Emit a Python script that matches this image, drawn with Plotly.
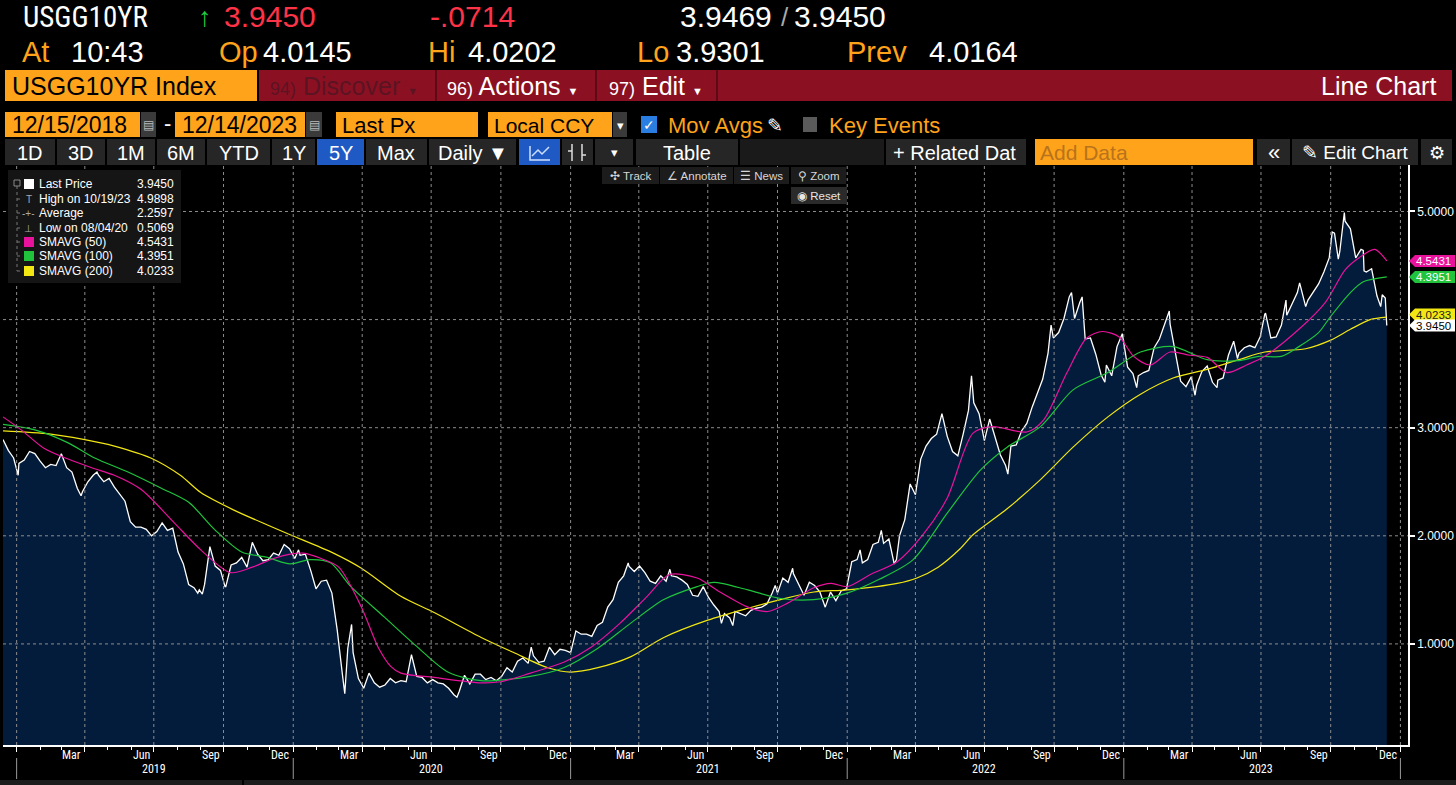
import pandas as pd
import plotly.graph_objects as go

# ---- data (USGG10YR, weekly Friday closes) ----
PRICE_2018 = [2.89, 2.79, 2.72]
PRICE_2019 = [2.67, 2.70, 2.78, 2.76, 2.69, 2.63, 2.66, 2.65, 2.76, 2.63, 2.59, 2.44, 2.41,
              2.50, 2.56, 2.56, 2.50, 2.53, 2.45, 2.39, 2.32, 2.13, 2.08, 2.08, 2.06, 2.00,
              2.04, 2.12, 2.05, 2.07, 1.85, 1.74, 1.55, 1.52, 1.50, 1.55, 1.90, 1.72, 1.68,
              1.53, 1.73, 1.75, 1.80, 1.71, 1.94, 1.83, 1.77, 1.78, 1.84, 1.82, 1.92, 1.88]
PRICE_2020 = [1.79, 1.82, 1.83, 1.68, 1.51, 1.58, 1.59, 1.47, 1.13, 0.71, 0.96, 0.92, 0.68,
              0.59, 0.73, 0.64, 0.60, 0.62, 0.68, 0.64, 0.66, 0.65, 0.90, 0.70, 0.69, 0.64,
              0.67, 0.64, 0.63, 0.59, 0.53, 0.56, 0.71, 0.63, 0.72, 0.72, 0.67, 0.69, 0.66,
              0.70, 0.78, 0.74, 0.84, 0.87, 0.82, 0.89, 0.83, 0.84, 0.97, 0.90, 0.95, 0.94]
PRICE_2021 = [0.92, 1.12, 1.09, 1.09, 1.07, 1.17, 1.20, 1.34, 1.41, 1.57, 1.63, 1.72, 1.67,
              1.72, 1.66, 1.58, 1.56, 1.63, 1.58, 1.63, 1.62, 1.59, 1.55, 1.45, 1.44, 1.53,
              1.43, 1.36, 1.30, 1.28, 1.24, 1.30, 1.28, 1.26, 1.31, 1.33, 1.34, 1.37, 1.47,
              1.47, 1.61, 1.57, 1.65, 1.55, 1.45, 1.57, 1.54, 1.48, 1.34, 1.48, 1.40, 1.49, 1.51]
PRICE_2022 = [1.76, 1.78, 1.75, 1.78, 1.92, 1.94, 1.93, 1.97, 1.74, 2.00, 2.15, 2.48,
              2.38, 2.71, 2.83, 2.90, 2.94, 3.13, 2.92, 2.78, 2.74, 2.94, 3.16, 3.23, 3.13,
              2.88, 3.08, 2.92, 2.75, 2.65, 2.83, 2.84, 2.97, 3.04, 3.19, 3.32, 3.45, 3.69, 3.83,
              3.88, 4.01, 4.21, 4.01, 4.16, 3.82, 3.83, 3.68, 3.49, 3.58, 3.48, 3.75, 3.87]
PRICE_2023 = [3.56, 3.50, 3.48, 3.51, 3.53, 3.74, 3.82, 3.95, 3.96, 3.70, 3.43, 3.38, 3.47,
              3.39, 3.52, 3.57, 3.42, 3.44, 3.46, 3.67, 3.80, 3.69, 3.74, 3.76, 3.74, 3.84,
              4.06, 3.83, 3.84, 3.95, 4.04, 4.15, 4.25, 4.24, 4.18, 4.26, 4.33, 4.44, 4.57,
              4.80, 4.63, 4.91, 4.84, 4.57, 4.65, 4.44, 4.47, 4.22, 4.23]

# intra-week extremes
EXTRA_DATES = ["2019-01-03", "2019-03-27", "2019-04-17", "2019-08-28", "2019-09-03", "2019-10-03",
               "2020-01-08", "2020-03-09", "2020-03-18", "2020-08-04", "2020-11-10", "2021-03-18",
               "2021-05-12", "2021-07-19", "2021-08-03", "2021-09-28", "2021-10-21", "2022-01-18",
               "2022-02-15", "2022-03-07", "2022-06-14", "2022-08-01", "2022-09-27", "2022-10-24",
               "2022-11-07", "2022-12-07", "2023-01-18", "2023-03-02", "2023-04-05", "2023-05-04",
               "2023-05-31", "2023-07-06", "2023-08-03", "2023-08-21", "2023-08-29", "2023-10-03",
               "2023-10-11", "2023-10-19", "2023-11-13", "2023-11-14", "2023-11-28", "2023-12-06",
               "2023-12-12", "2023-12-13", "2023-12-14"]
EXTRA_VALS = [2.56, 2.37, 2.59, 1.47, 1.46, 1.53,
              1.87, 0.54, 1.18, 0.5069, 0.97, 1.75,
              1.69, 1.19, 1.17, 1.54, 1.70, 1.87,
              2.05, 1.78, 3.48, 2.57, 3.95, 4.25,
              4.21, 3.42, 3.37, 4.08, 3.30, 3.37,
              3.64, 4.05, 4.18, 4.34, 4.12, 4.81,
              4.56, 4.9898, 4.64, 4.45, 4.34, 4.12,
              4.20, 4.03, 3.945]

# moving averages
SMA50_DATES = ["2018-12-14", "2019-01-07", "2019-02-06", "2019-03-10", "2019-04-10", "2019-05-10",
               "2019-06-14", "2019-07-28", "2019-09-01", "2019-10-10", "2019-11-08", "2019-12-06",
               "2019-12-28", "2020-01-14", "2020-02-07", "2020-03-01", "2020-03-31", "2020-04-22",
               "2020-05-09", "2020-05-22", "2020-07-05", "2020-09-05", "2020-10-01", "2020-11-09",
               "2020-12-23", "2021-01-28", "2021-03-07", "2021-04-12", "2021-05-11", "2021-06-17",
               "2021-07-17", "2021-08-23", "2021-09-18", "2021-10-15", "2021-11-18", "2021-12-11",
               "2022-01-01", "2022-01-31", "2022-03-08", "2022-04-11", "2022-05-13", "2022-06-16",
               "2022-07-12", "2022-08-26", "2022-09-17", "2022-10-18", "2022-11-13", "2022-12-04",
               "2022-12-26", "2023-01-14", "2023-02-05", "2023-03-03", "2023-03-29", "2023-04-21",
               "2023-05-17", "2023-06-12", "2023-07-06", "2023-08-20", "2023-09-24", "2023-10-20",
               "2023-11-07", "2023-11-28", "2023-12-14"]
SMA50_VALS = [3.10, 2.98, 2.81, 2.71, 2.63, 2.56,
              2.43, 2.12, 1.87, 1.66, 1.71, 1.79,
              1.83, 1.84, 1.79, 1.71, 1.34, 0.97,
              0.79, 0.73, 0.69, 0.64, 0.65, 0.73,
              0.83, 0.97, 1.19, 1.44, 1.64, 1.61,
              1.48, 1.34, 1.30, 1.38, 1.52, 1.56,
              1.53, 1.64, 1.76, 2.01, 2.35, 2.95,
              3.01, 2.96, 3.07, 3.51, 3.83, 3.89,
              3.84, 3.66, 3.58, 3.70, 3.67, 3.65,
              3.51, 3.58, 3.66, 3.91, 4.16, 4.46,
              4.57, 4.65, 4.5431]

SMA100_DATES = ["2018-12-14", "2019-01-25", "2019-03-10", "2019-04-14", "2019-05-28", "2019-07-11",
                "2019-08-16", "2019-09-19", "2019-10-25", "2019-11-28", "2019-12-28", "2020-01-23",
                "2020-02-19", "2020-03-17", "2020-04-30", "2020-06-13", "2020-07-23", "2020-09-05",
                "2020-11-09", "2020-12-23", "2021-02-06", "2021-03-21", "2021-05-04", "2021-06-17",
                "2021-07-09", "2021-08-23", "2021-10-05", "2021-11-18", "2022-01-01", "2022-02-13",
                "2022-03-29", "2022-05-13", "2022-06-26", "2022-07-31", "2022-09-13", "2022-10-26",
                "2022-12-11", "2023-01-23", "2023-03-07", "2023-04-21", "2023-06-02", "2023-06-28",
                "2023-07-28", "2023-08-20", "2023-09-15", "2023-10-01", "2023-10-27", "2023-11-13",
                "2023-12-14"]
SMA100_VALS = [3.03, 2.98, 2.86, 2.72, 2.59, 2.44,
               2.31, 2.06, 1.85, 1.80, 1.74, 1.78,
               1.75, 1.53, 1.25, 0.97, 0.74, 0.66,
               0.70, 0.78, 0.96, 1.19, 1.41, 1.53,
               1.57, 1.50, 1.42, 1.41, 1.47, 1.60,
               1.78, 2.21, 2.61, 2.82, 3.01, 3.35,
               3.51, 3.70, 3.75, 3.63, 3.62, 3.66,
               3.66, 3.75, 3.88, 4.03, 4.25, 4.35,
               4.3951]

SMA200_DATES = ["2018-12-14", "2019-02-15", "2019-04-22", "2019-05-10", "2019-06-27", "2019-08-05",
                "2019-09-01", "2019-10-14", "2019-11-28", "2019-12-28", "2020-02-23", "2020-03-31",
                "2020-05-22", "2020-07-05", "2020-09-05", "2020-10-18", "2020-12-02", "2021-01-01",
                "2021-02-06", "2021-03-21", "2021-05-04", "2021-07-01", "2021-08-23", "2021-10-05",
                "2021-11-18", "2022-01-01", "2022-03-08", "2022-04-03", "2022-05-01", "2022-05-30",
                "2022-06-16", "2022-07-31", "2022-09-13", "2022-10-26", "2022-12-11", "2023-01-23",
                "2023-03-07", "2023-04-21", "2023-06-02", "2023-07-06", "2023-08-29", "2023-10-01",
                "2023-10-27", "2023-11-22", "2023-12-14"]
SMA200_VALS = [2.97, 2.94, 2.86, 2.83, 2.72, 2.56,
               2.40, 2.24, 2.10, 2.01, 1.84, 1.70,
               1.44, 1.29, 1.06, 0.92, 0.78, 0.74,
               0.78, 0.88, 1.06, 1.22, 1.33, 1.41,
               1.48, 1.50, 1.56, 1.61, 1.71, 1.88,
               2.01, 2.25, 2.52, 2.82, 3.10, 3.31,
               3.46, 3.54, 3.63, 3.70, 3.73, 3.81,
               3.91, 4.00, 4.0233]

Y_TICKS = [1, 2, 3, 5]
H_GRID = [1, 2, 3, 4, 5]
MONTH_LABELS = {3: "Mar", 6: "Jun", 9: "Sep", 12: "Dec"}
YEARS = [2019, 2020, 2021, 2022, 2023]

LEGEND_NAMES = ["Last Price", "High on 10/19/23", "Average", "Low on 08/04/20",
                "SMAVG (50)", "SMAVG (100)", "SMAVG (200)"]
LEGEND_VALUES = ["3.9450", "4.9898", "2.2597", "0.5069", "4.5431", "4.3951", "4.0233"]

# ---- colours / fonts ----
ORANGE = "#ffa31a"
RED = "#ff3347"
MAROON = "#8b1122"
MAGENTA = "#e8129c"
GREEN = "#1fc43c"
YELLOW = "#f2e712"
NAVY = "#031c3c"
GRID = "#8c8c8c"
NARROW = "'Liberation Sans Narrow', 'Roboto Condensed', 'DejaVu Sans Condensed', 'Arial Narrow', sans-serif"
SANS = "'Liberation Sans', Arial, sans-serif"

weekly = pd.Series(PRICE_2018 + PRICE_2019 + PRICE_2020 + PRICE_2021 + PRICE_2022 + PRICE_2023,
                   index=pd.date_range("2018-12-14", "2023-12-08", freq="W-FRI"))
extra = pd.Series(EXTRA_VALS, index=pd.to_datetime(EXTRA_DATES))
price = pd.concat([weekly, extra]).sort_index()

# pixel layout of the plot area inside the 1456x785 page
W, H = 1456, 785
L, T, PW, PH = 3, 165, 1405, 580


def fx(p):
    return (p - L) / PW


def fy(p):
    return (T + PH - p) / PH


shapes = []
annotations = []


def rect(x0, y0, x1, y1, color, line=None):
    shapes.append(dict(type="rect", xref="paper", yref="paper", layer="above",
                       x0=fx(x0), x1=fx(x1), y0=fy(y1), y1=fy(y0), fillcolor=color,
                       line=dict(width=0) if line is None else dict(color=line, width=1)))


def text(x, y, s, color="white", size=12, anchor="left", family=SANS):
    annotations.append(dict(xref="paper", yref="paper", x=fx(x), y=fy(y), text=s,
                            showarrow=False, xanchor=anchor, yanchor="middle", borderpad=0,
                            font=dict(color=color, size=size, family=family)))


def button(x0, x1, y0, y1, s, bg="#262626", color="white", size=20, anchor="center", pad=5):
    rect(x0, y0, x1, y1, bg)
    xt = {"center": (x0 + x1) / 2, "left": x0 + pad, "right": x1 - pad}[anchor]
    text(xt, (y0 + y1) / 2 + 0.5, s, color, size, anchor)


fig = go.Figure()

fig.add_trace(go.Scatter(x=price.index, y=price.values, mode="lines", fill="tozeroy",
                         fillcolor=NAVY, line=dict(color="white", width=1.3), hoverinfo="skip"))
for d, v, c in [(SMA200_DATES, SMA200_VALS, YELLOW), (SMA100_DATES, SMA100_VALS, GREEN),
                (SMA50_DATES, SMA50_VALS, MAGENTA)]:
    fig.add_trace(go.Scatter(x=pd.to_datetime(d), y=v, mode="lines",
                             line=dict(color=c, width=1.2, shape="spline", smoothing=0.8),
                             hoverinfo="skip"))

# dotted grid drawn over the area fill
quarters = pd.date_range("2019-01-01", "2024-01-01", freq="QS")
for q in quarters:
    shapes.append(dict(type="line", xref="x", yref="paper", x0=q, x1=q, y0=0, y1=1, layer="above",
                       line=dict(color=GRID, width=1, dash="dot")))
for g in H_GRID:
    shapes.append(dict(type="line", xref="paper", yref="y", x0=0, x1=1, y0=g, y1=g, layer="above",
                       line=dict(color=GRID, width=1, dash="dot")))

# month / year labels under the axis
for yr in YEARS:
    for m, lab in MONTH_LABELS.items():
        annotations.append(dict(xref="x", yref="paper", x=pd.Timestamp(yr, m, 15), y=fy(754.5),
                                text=lab, showarrow=False, xanchor="center", yanchor="middle",
                                borderpad=0, font=dict(color="white", size=12, family=NARROW)))
    annotations.append(dict(xref="x", yref="paper", x=pd.Timestamp(yr, 7, 1), y=fy(769),
                            text=str(yr), showarrow=False, xanchor="center", yanchor="middle",
                            borderpad=0, font=dict(color="white", size=12, family=NARROW)))
for yr in YEARS + [2024]:
    shapes.append(dict(type="line", xref="x", yref="paper", x0=pd.Timestamp(yr, 1, 1),
                       x1=pd.Timestamp(yr, 1, 1), y0=fy(758), y1=fy(779),
                       line=dict(color="#9a9a9a", width=1)))

# right-hand value flags (yellow pushed just above the last-price flag, as on the terminal)
last_px = price.values[-1]
flags = [(YELLOW, max(SMA200_VALS[-1], last_px + 11 / 108), SMA200_VALS[-1], "#222222"),
         (MAGENTA, SMA50_VALS[-1], SMA50_VALS[-1], "white"),
         (GREEN, SMA100_VALS[-1], SMA100_VALS[-1], "white"),
         ("white", last_px, last_px, "black")]
for col, ypos, v, tc in flags:
    h = 6 / 108
    shapes.append(dict(type="path", xref="paper", yref="y", layer="above",
                       path=f"M {fx(1409)},{ypos} L {fx(1415)},{ypos + h} L {fx(1455)},{ypos + h} "
                            f"L {fx(1455)},{ypos - h} L {fx(1415)},{ypos - h} Z",
                       fillcolor=col, line=dict(width=0)))
    annotations.append(dict(xref="paper", yref="y", x=fx(1452), y=ypos, text=f"{v:.4f}",
                            showarrow=False, xanchor="right", yanchor="middle", borderpad=0,
                            font=dict(color=tc, size=11.5, family=SANS)))

# ---- header ----
text(22, 17, "USGG10YR", size=29, family=NARROW)
text(197, 17, "↑", "#22cc44", 27)
text(223, 17, "3.9450", RED, 30)
text(429, 17, "-.0714", RED, 30)
text(679, 17, "3.9469", size=30)
text(780, 17, "/", "#aaaaaa", 26)
text(793, 17, "3.9450", size=30)
for x, s, c in [(21, "At", ORANGE), (70, "10:43", "white"), (218, "Op", ORANGE), (262, "4.0145", "white"),
                (427, "Hi", ORANGE), (467, "4.0202", "white"), (636, "Lo", ORANGE), (675, "3.9301", "white"),
                (846, "Prev", ORANGE), (928, "4.0164", "white")]:
    text(x, 52, s, c, 29)

rect(5, 70, 257, 101, ORANGE)
text(11, 86, "USGG10YR Index", "black", 25)
rect(259, 70, 1452, 101, MAROON)
for x in [435, 595, 716]:
    rect(x, 70, x + 2, 101, "#5e0a16")
text(269, 86, "<span style='font-size:18px'>94)</span> Discover <span style='font-size:11px'>▼</span>",
     "#5c1322", 25)
text(446, 86, "<span style='font-size:18px'>96)</span> Actions <span style='font-size:11px'>▼</span>",
     "white", 25)
text(608, 86, "<span style='font-size:18px'>97)</span> Edit <span style='font-size:11px'>▼</span>",
     "white", 25)
text(1437, 86, "Line Chart", "white", 25, "right")

# date / field row
button(5, 140, 112, 137, "12/15/2018", ORANGE, "black", 23, "left", 6)
button(141, 156, 112, 137, "▤", "#3a3a3a", "#bbbbbb", 12)
text(163, 124, "-", "white", 22)
button(175, 305, 112, 137, "12/14/2023", ORANGE, "black", 23, "left", 6)
button(306, 322, 112, 137, "▤", "#3a3a3a", "#bbbbbb", 12)
button(336, 478, 112, 137, "Last Px", ORANGE, "black", 22, "left")
button(488, 612, 112, 137, "Local CCY", ORANGE, "black", 21, "left")
button(613, 627, 112, 137, "▾", "#3a3a3a", "white", 13)
button(641, 657, 116, 133, "✓", "#2a7de1", "white", 14)
text(667, 125, "Mov Avgs", ORANGE, 22)
text(766, 125, "✎", "white", 19)
rect(803, 117, 817, 132, "#5a5a5a")
text(828, 125, "Key Events", ORANGE, 22)

# period / tool row
for x0, x1, s in [(5, 55, "1D"), (57, 105, "3D"), (107, 155, "1M"), (157, 205, "6M"), (207, 270, "YTD"),
                  (272, 315, "1Y"), (366, 427, "Max")]:
    button(x0, x1, 139, 165, s)
button(317, 364, 139, 165, "5Y", "#1f5ac4")
button(429, 516, 139, 165, "Daily ▼")
button(519, 560, 139, 165, "", "#1f5ac4")
shapes.append(dict(type="path", xref="paper", yref="paper", layer="above",
                   path=f"M {fx(530)},{fy(146)} L {fx(530)},{fy(160)} L {fx(550)},{fy(160)} "
                        f"M {fx(532)},{fy(156)} L {fx(538)},{fy(150)} L {fx(542)},{fy(154)} L {fx(549)},{fy(147)}",
                   line=dict(color="#cfe0ff", width=1.5)))
button(562, 593, 139, 165, "")
shapes.append(dict(type="path", xref="paper", yref="paper", layer="above",
                   path=f"M {fx(572)},{fy(144)} L {fx(572)},{fy(161)} M {fx(568)},{fy(151)} L {fx(572)},{fy(151)} "
                        f"M {fx(582)},{fy(144)} L {fx(582)},{fy(161)} M {fx(582)},{fy(155)} L {fx(586)},{fy(155)}",
                   line=dict(color="#dddddd", width=1.5)))
button(595, 633, 139, 165, "▾", size=13)
button(636, 738, 139, 165, "Table")
button(740, 884, 139, 165, "", "#1a1a1a")
button(886, 1026, 139, 165, "+ Related Dat", anchor="left", pad=6)
button(1035, 1253, 139, 165, "Add Data", ORANGE, "#b8731c", 21, "left", 4)
button(1257, 1290, 139, 165, "«", size=22)
button(1292, 1418, 139, 165, "✎ Edit Chart", size=19)
button(1421, 1452, 139, 165, "⚙", size=18)

# in-chart toolbar
for x0, x1, s in [(602, 659, "✣ Track"), (660, 733, "∠ Annotate"), (734, 789, "☰ News"),
                  (791, 846, "⚲ Zoom")]:
    button(x0, x1, 167, 184, s, "#1c1c1c", "#d6d6d6", 11.5)
button(791, 847, 187, 204, "◉ Reset", "#2a2a2a", "#e6e6e6", 11.5)

# legend box
rect(8, 170, 181, 283, "#151515")
rows = [184, 199, 213, 228, 242, 256, 271]
shapes.append(dict(type="line", xref="paper", yref="paper", x0=fx(17), x1=fx(17), y0=fy(186), y1=fy(271),
                   line=dict(color="#777777", width=1, dash="dot")))
rect(14, 180, 20, 186, "#151515", "#888888")
for y in rows[1:]:
    shapes.append(dict(type="line", xref="paper", yref="paper", x0=fx(17), x1=fx(22), y0=fy(y), y1=fy(y),
                       line=dict(color="#777777", width=1, dash="dot")))
icons = [("sq", "white"), ("T", "#aaaaaa"), ("-+-", "#aaaaaa"), ("⊥", "#aaaaaa"),
         ("sq", MAGENTA), ("sq", GREEN), ("sq", YELLOW)]
for y, (kind, col), name, val in zip(rows, icons, LEGEND_NAMES, LEGEND_VALUES):
    if kind == "sq":
        rect(24, y - 5, 34, y + 5, col)
    else:
        text(29, y, kind, col, 10, "center")
    text(38, y, name, "white", 12)
    text(175, y, val, "white", 12, "right")

# bottom strip
rect(0, 780, 1456, 785, "#1c1c1c")
rect(242, 780, 244, 785, "#000000")

fig.update_layout(
    width=W, height=H,
    margin=dict(l=L, r=W - L - PW, t=T, b=H - T - PH),
    paper_bgcolor="black", plot_bgcolor="black",
    showlegend=False,
    shapes=shapes, annotations=annotations,
    xaxis=dict(range=["2018-12-14", "2024-01-11"], showgrid=False, zeroline=False,
               showline=True, linecolor="white", linewidth=1.5,
               tickvals=quarters, showticklabels=False, ticks="outside", ticklen=5,
               tickcolor="white",
               minor=dict(ticks="outside", ticklen=3, tickcolor="white", dtick="M1",
                          tick0="2019-01-01", showgrid=False)),
    yaxis=dict(range=[0.065, 5.43], side="right", showgrid=False, zeroline=False,
               showline=True, linecolor="white", linewidth=1.5,
               tickvals=Y_TICKS, tickformat=".4f", ticks="outside", ticklen=5,
               tickcolor="white", tickwidth=2,
               tickfont=dict(color="white", size=12, family=SANS)),
)

fig.write_html("out.html", config={"displayModeBar": False},
               post_script="document.body.style.margin='0';document.body.style.background='black';")
